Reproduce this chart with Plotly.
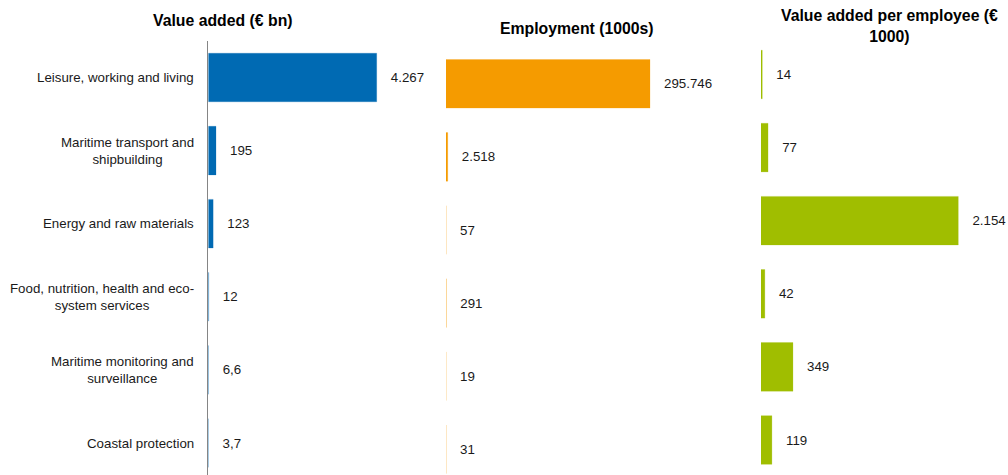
import plotly.graph_objects as go

categories = [
    "Leisure, working and living",
    "Maritime transport and<br>shipbuilding",
    "Energy and raw materials",
    "Food, nutrition, health and eco-<br>system services",
    "Maritime monitoring and<br>surveillance",
    "Coastal protection",
]
value_added = [4267, 195, 123, 12, 6.6, 3.7]
employment = [295746, 2518, 57, 291, 19, 31]
value_per_employee = [14, 77, 2154, 42, 349, 119]

titles = ["Value added (€ bn)", "Employment (1000s)", "Value added per employee (€<br>1000)"]
rgb = [(0, 106, 179), (245, 155, 0), (160, 190, 0)]

W, H = 1008, 475
FONT = "Liberation Sans, Arial, sans-serif"
NB = "\u00a0"


def fmt(v):
    s = f"{v:,}"
    return s.replace(",", "#").replace(".", ",").replace("#", ".")


fig = go.Figure()

series = [value_added, employment, value_per_employee]
for i, (vals, c) in enumerate(zip(series, rgb)):
    sfx = "" if i == 0 else str(i + 1)
    fig.add_trace(go.Bar(
        x=vals, y=categories, orientation="h",
        marker=dict(color="rgb(%d,%d,%d)" % c,
                    line=dict(width=1, color="rgba(%d,%d,%d,0.22)" % c)),
        width=0.665,
        text=[NB * 3 + fmt(v) for v in vals],
        textposition="outside", cliponaxis=False, constraintext="none",
        textfont=dict(family=FONT, size=13.3, color="#1a1a1a"),
        xaxis="x" + sfx, yaxis="y" + sfx, showlegend=False,
        hoverinfo="skip",
    ))

ROW = 73.1
x0_1, sc1 = 208.3, 168.4 / 4267
x0_2, sc2 = 446.0, 204.0 / 295746
x0_3, sc3 = 761.0, 197.3 / 2154
end1, end2, end3 = 430.0, 740.0, 1008.0


def yr(top_px, bot_px, c0):
    return [(bot_px - c0) / ROW, (top_px - c0) / ROW]


common_y = dict(type="category", showgrid=False, zeroline=False, showticklabels=False,
                ticks="")
fig.update_layout(
    xaxis=dict(domain=[x0_1 / W, end1 / W], range=[0, (end1 - x0_1) / sc1], visible=False),
    xaxis2=dict(domain=[x0_2 / W, end2 / W], range=[0, (end2 - x0_2) / sc2], visible=False),
    xaxis3=dict(domain=[x0_3 / W, end3 / W], range=[0, (end3 - x0_3) / sc3], visible=False),
    yaxis=dict(domain=[0, (H - 41) / H], range=yr(41, H, 77.5), anchor="x",
               showline=True, linecolor="#858585", linewidth=1, **common_y),
    yaxis2=dict(domain=[0, 1], range=yr(0, H, 83.8), anchor="x2", showline=False, **common_y),
    yaxis3=dict(domain=[0, 1], range=yr(0, H, 74.5), anchor="x3", showline=False, **common_y),
    width=W, height=H,
    margin=dict(l=0, r=0, t=0, b=0),
    paper_bgcolor="white", plot_bgcolor="white",
    font=dict(family=FONT, color="#1a1a1a"),
    bargap=0.33,
)

for c in categories:
    fig.add_annotation(
        x=0, xref="x domain", y=c, yref="y", xanchor="right", yanchor="middle",
        xshift=-12, align="center", text=c, showarrow=False,
        font=dict(family=FONT, size=13.3, color="#1a1a1a"),
    )

title_pos = [(222.5, 20), (577, 28), (889, 26)]
for t, (px, py) in zip(titles, title_pos):
    fig.add_annotation(
        x=px / W, y=1 - py / H, xref="paper", yref="paper",
        xanchor="center", yanchor="middle", align="center",
        text=f"<b>{t}</b>", showarrow=False,
        font=dict(family=FONT, size=15.8, color="#000000"),
    )

fig.write_html("out.html", config={"staticPlot": True})
